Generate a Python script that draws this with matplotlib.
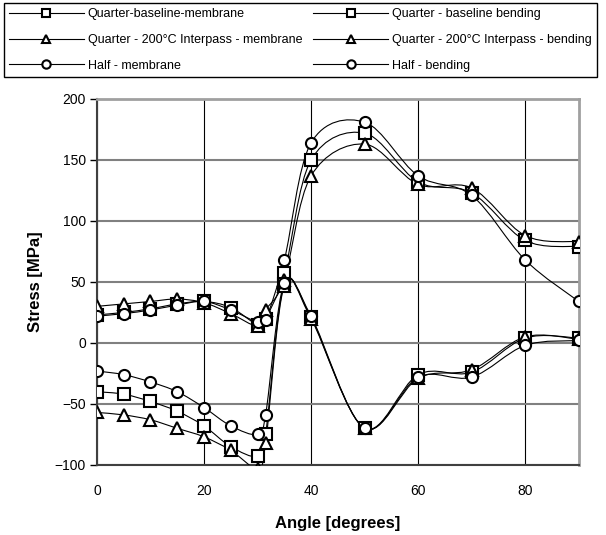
import matplotlib
matplotlib.use('Agg')
import matplotlib.pyplot as plt
from matplotlib.path import Path
from matplotlib.patches import PathPatch
from matplotlib.lines import Line2D

plt.rcParams['font.family'] = ['Liberation Sans', 'DejaVu Sans']

# angulos (graus)
angulos = [0, 5, 10, 15, 20, 25, 30, 31.5, 35, 40, 50, 60, 70, 80, 90]

# tensoes [MPa]
q_base_membrana = [23, 25, 28, 32, 34, 29, 15, 20, 57, 150, 172, 132, 123, 84, 79]
q_inter_membrana = [30, 32, 34, 36, 33, 24, 14, 27, 52, 137, 163, 130, 127, 88, 83]
meia_membrana = [22, 24, 27, 31, 34, 27, 17, 19, 68, 164, 181, 137, 121, 68, 34]
q_base_flexao = [-40, -42, -48, -56, -68, -85, -93, -75, 48, 21, -70, -26, -24, 4, 4]
q_inter_flexao = [-57, -59, -63, -70, -77, -88, -103, -82, 47, 20, -70, -29, -22, 5, 3]
meia_flexao = [-23, -26, -32, -40, -53, -68, -75, -59, 49, 22, -70, -28, -28, -2, 2]

rotulos = ['Quarter-baseline-membrane',
           'Quarter - 200°C Interpass - membrane',
           'Half - membrane',
           'Quarter - baseline bending',
           'Quarter - 200°C Interpass - bending',
           'Half - bending']
series = [q_base_membrana, q_inter_membrana, meia_membrana,
          q_base_flexao, q_inter_flexao, meia_flexao]
marcadores = ['s', '^', 'o', 's', '^', 'o']


def curva_suave(x, y):
    # curva suavizada tipo Excel (Bezier / Catmull-Rom)
    n = len(x)
    verts = [(x[0], y[0])]
    codes = [Path.MOVETO]
    for i in range(n - 1):
        a = i - 1 if i > 0 else i
        d = i + 2 if i + 2 < n else i + 1
        c1 = (x[i] + (x[i + 1] - x[a]) / 6, y[i] + (y[i + 1] - y[a]) / 6)
        c2 = (x[i + 1] - (x[d] - x[i]) / 6, y[i + 1] - (y[d] - y[i]) / 6)
        verts += [c1, c2, (x[i + 1], y[i + 1])]
        codes += [Path.CURVE4] * 3
    return Path(verts, codes)


fig = plt.figure(figsize=(6.06, 5.35), dpi=100)
ax = fig.add_axes([0.160, 0.131, 0.795, 0.684])

for y in series:
    ax.add_patch(PathPatch(curva_suave(angulos, y), facecolor='none',
                           edgecolor='black', lw=0.8, zorder=3))

handles = []
for y, m, r in zip(series, marcadores, rotulos):
    ax.plot(angulos, y, linestyle='none', marker=m, markersize=8,
            markerfacecolor='white', markeredgecolor='black',
            markeredgewidth=1.5, zorder=4, clip_on=True)
    handles.append(Line2D([], [], color='black', lw=0.8, marker=m,
                          markersize=6, markerfacecolor='white',
                          markeredgecolor='black', markeredgewidth=1.5,
                          label=r))

ax.set_xlim(0, 90)
ax.set_ylim(-100, 200)
ax.set_xticks([0, 20, 40, 60, 80])
ax.set_yticks(range(-100, 201, 50))
ax.grid(True, axis='y', color='#808080', lw=1.5)
ax.grid(True, axis='x', color='black', lw=0.8)
ax.set_axisbelow(True)
for lado in ['top', 'right']:
    ax.spines[lado].set_color('#a0a0a0')
    ax.spines[lado].set_linewidth(2)
for lado in ['left', 'bottom']:
    ax.spines[lado].set_color('#404040')
    ax.spines[lado].set_linewidth(1.5)
ax.tick_params(axis='y', length=5, width=1, labelsize=10, pad=3)
ax.tick_params(axis='x', length=0, labelsize=10, pad=14)

ax.set_xlabel('Angle [degrees]', fontsize=12, fontweight='bold', labelpad=13)
ax.set_ylabel('Stress [MPa]', fontsize=12, fontweight='bold', labelpad=8)

leg = fig.legend(handles=handles, ncol=2, loc='upper left',
                 bbox_to_anchor=(0.0066, 0.856, 0.9785, 0.138), mode='expand',
                 fontsize=9, handlelength=6, handletextpad=0.3,
                 labelspacing=1.1, borderpad=0.4, borderaxespad=0,
                 frameon=True, fancybox=False, framealpha=1,
                 edgecolor='black')
leg.get_frame().set_linewidth(1)

plt.savefig('out.png', dpi=100)
